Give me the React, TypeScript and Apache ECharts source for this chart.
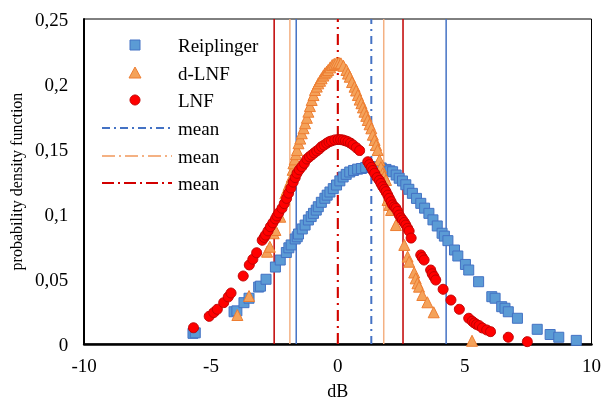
import React, { useEffect, useRef } from "react";
import * as echarts from "echarts";

// Reiplinger PDF points [dB, pdf]
const reiplinger: [number, number][] = [
  [-5.71, 0.0082], [-5.62, 0.0086], [-4.09, 0.0248], [-3.98, 0.0255], [-3.7, 0.0318], [-3.5, 0.0352],
  [-3.12, 0.0438], [-3.05, 0.0445], [-2.83, 0.0498], [-2.46, 0.0592], [-2.27, 0.0646], [-2.03, 0.0704],
  [-1.93, 0.074], [-1.84, 0.0762], [-1.68, 0.0808], [-1.6, 0.0825], [-1.55, 0.0846], [-1.4, 0.0885],
  [-1.29, 0.0915], [-1.16, 0.0954], [-1.05, 0.098], [-0.96, 0.1005], [-0.85, 0.103], [-0.77, 0.1056],
  [-0.65, 0.109], [-0.51, 0.1121], [-0.42, 0.1145], [-0.31, 0.1169], [-0.18, 0.1195], [-0.05, 0.1223],
  [0.08, 0.1255], [0.21, 0.1285], [0.33, 0.1305], [0.47, 0.1323], [0.62, 0.1335], [0.78, 0.1345],
  [0.93, 0.135], [1.1, 0.1358], [1.32, 0.1364], [1.5, 0.136], [1.71, 0.1354], [1.9, 0.1343],
  [2.05, 0.1332], [2.16, 0.1325], [2.3, 0.13], [2.42, 0.1275], [2.55, 0.1254], [2.68, 0.1225],
  [2.8, 0.119], [2.94, 0.1159], [3.1, 0.112], [3.27, 0.1082], [3.42, 0.1045], [3.59, 0.1005],
  [3.75, 0.0955], [3.92, 0.0908], [4.11, 0.0852], [4.2, 0.083], [4.34, 0.0795], [4.6, 0.0723],
  [4.73, 0.0677], [5.03, 0.0612], [5.16, 0.0569], [5.55, 0.0479], [6.07, 0.0364], [6.2, 0.0352],
  [6.46, 0.0287], [6.59, 0.0275], [6.72, 0.0248], [7.08, 0.0198], [7.86, 0.0113], [8.37, 0.0073],
  [8.71, 0.0052], [9.4, 0.0028],
];

// d-LNF PDF points
const dLnf: [number, number][] = [
  [-3.96, 0.0223], [-3.5, 0.0369], [-2.79, 0.071], [-2.68, 0.0748], [-2.53, 0.0852], [-2.46, 0.0877],
  [-2.27, 0.0979], [-2.07, 0.1159], [-2.0, 0.119], [-1.94, 0.1223], [-1.87, 0.1255], [-1.81, 0.1287],
  [-1.78, 0.134], [-1.75, 0.139], [-1.7, 0.142], [-1.65, 0.146], [-1.61, 0.1492], [-1.55, 0.1544],
  [-1.48, 0.158], [-1.42, 0.1621], [-1.35, 0.166], [-1.29, 0.1698], [-1.22, 0.174], [-1.16, 0.1787],
  [-1.1, 0.183], [-1.03, 0.1877], [-0.96, 0.1915], [-0.9, 0.1954], [-0.83, 0.198], [-0.77, 0.2005],
  [-0.7, 0.2025], [-0.64, 0.2044], [-0.57, 0.2065], [-0.51, 0.2082], [-0.44, 0.2095], [-0.38, 0.2108],
  [-0.3, 0.2128], [-0.22, 0.2146], [-0.14, 0.2155], [-0.05, 0.2164], [0.04, 0.2165], [0.12, 0.2159],
  [0.22, 0.214], [0.34, 0.2108], [0.4, 0.208], [0.47, 0.2056], [0.56, 0.2015], [0.66, 0.1979],
  [0.72, 0.195], [0.79, 0.1915], [0.86, 0.188], [0.93, 0.1852], [0.99, 0.182], [1.05, 0.1787],
  [1.12, 0.1755], [1.18, 0.1723], [1.25, 0.169], [1.32, 0.1659], [1.38, 0.161], [1.45, 0.1569],
  [1.51, 0.153], [1.57, 0.1492], [1.64, 0.1415], [1.7, 0.136], [1.77, 0.1313], [1.83, 0.129],
  [1.9, 0.1262], [1.93, 0.119], [1.96, 0.1108], [2.03, 0.107], [2.1, 0.1031], [2.29, 0.0915],
  [2.62, 0.0762], [2.75, 0.0672], [2.81, 0.0633], [3.01, 0.055], [3.07, 0.0505], [3.14, 0.0467],
  [3.2, 0.0441], [3.33, 0.0377], [3.53, 0.0321], [3.78, 0.0244], [5.29, 0.0025],
];

// LNF PDF points
const lnf: [number, number][] = [
  [-5.69, 0.0125], [-5.07, 0.0213], [-4.89, 0.0242], [-4.75, 0.0267], [-4.5, 0.0318], [-4.32, 0.0362],
  [-4.21, 0.0392], [-3.73, 0.0523], [-3.49, 0.0608], [-3.35, 0.0652], [-3.2, 0.0702], [-2.98, 0.0798],
  [-2.9, 0.082], [-2.85, 0.0838], [-2.75, 0.087], [-2.66, 0.0902], [-2.56, 0.0932], [-2.46, 0.0962],
  [-2.4, 0.0985], [-2.33, 0.1008], [-2.2, 0.1044], [-2.11, 0.108], [-2.02, 0.112], [-1.94, 0.116],
  [-1.85, 0.12], [-1.76, 0.1245], [-1.68, 0.128], [-1.61, 0.1313], [-1.52, 0.134], [-1.42, 0.1364],
  [-1.32, 0.139], [-1.22, 0.1423], [-1.12, 0.144], [-1.03, 0.1454], [-0.93, 0.147], [-0.83, 0.1485],
  [-0.73, 0.15], [-0.64, 0.1518], [-0.54, 0.153], [-0.44, 0.1544], [-0.35, 0.1555], [-0.25, 0.1562],
  [-0.12, 0.157], [0.01, 0.1573], [0.11, 0.1572], [0.21, 0.1569], [0.3, 0.1563], [0.4, 0.1556],
  [0.5, 0.1545], [0.6, 0.1531], [0.73, 0.151], [0.86, 0.1488], [1.18, 0.1402], [1.25, 0.138],
  [1.32, 0.1358], [1.38, 0.1335], [1.45, 0.1313], [1.55, 0.128], [1.64, 0.1258], [1.7, 0.1235],
  [1.77, 0.121], [1.84, 0.119], [1.9, 0.1172], [1.97, 0.1145], [2.03, 0.1121], [2.1, 0.1095],
  [2.16, 0.107], [2.23, 0.1055], [2.29, 0.1044], [2.36, 0.102], [2.42, 0.0992], [2.49, 0.097],
  [2.55, 0.0954], [2.62, 0.0935], [2.68, 0.0915], [2.75, 0.089], [2.81, 0.0869], [2.89, 0.0815],
  [3.27, 0.0685], [3.33, 0.0665], [3.4, 0.0646], [3.66, 0.0569], [3.72, 0.054], [3.79, 0.0518],
  [3.86, 0.0492], [4.15, 0.0421], [4.46, 0.0338], [4.79, 0.0267], [5.16, 0.0198], [5.3, 0.0175],
  [5.38, 0.0162], [5.47, 0.015], [5.57, 0.0142], [5.7, 0.0123], [5.87, 0.0108], [6.02, 0.0095],
  [6.72, 0.0052], [7.47, 0.0018],
];

// means and ±σ bounds (dB)
const reiplingerMean = 1.32;
const reiplingerBounds = [-1.64, 4.27];
const dLnfMean = 0;
const dLnfBounds = [-1.89, 1.81];
const lnfMean = 0;
const lnfBounds = [-2.51, 2.57];

const xRange = [-10, 10];
const yRange = [0, 0.25];
const legendLabels = ["Reiplinger", "d-LNF", "LNF", "mean", "mean", "mean"];

const FONT = '"Liberation Serif", "DejaVu Serif", serif';
const BLUE = "#4472C4";
const BLUE_FILL = "#5B9BD5";
const ORANGE = "#ED7D31";
const ORANGE_FILL = "#F4A25A";
const ORANGE_LIGHT = "#F4B183";
const RED = "#C00000";
const RED_MEAN = "#D20000";
const RED_FILL = "#FF0000";

const vline = (x: number, color: string, width: number, dash: any) => ({
  type: "line",
  data: [[x, yRange[0]], [x, yRange[1]]],
  symbol: "none",
  silent: true,
  z: 1,
  lineStyle: { color, width, type: dash },
});

export default function App() {
  const ref = useRef<HTMLDivElement>(null);
  useEffect(() => {
    if (!ref.current) return;
    const chart = echarts.init(ref.current, undefined, { renderer: "svg" });
    const legendRowY = [45, 73, 100, 128, 156, 183];
    const meanColors = [BLUE, ORANGE_LIGHT, RED_MEAN];
    const meanDash = [[8, 4, 2, 4], [13, 4, 2, 4], [12, 4, 2, 4]];
    const plotDash = [[8, 5, 2, 5], [11, 5, 2, 5], [11, 5, 2, 5]];
    const graphic: any[] = [];
    graphic.push({ type: "rect", shape: { x: 130, y: legendRowY[0] - 5, width: 10, height: 10 }, style: { fill: BLUE_FILL, stroke: BLUE, lineWidth: 1 } });
    graphic.push({ type: "polygon", shape: { points: [[135, legendRowY[1] - 6], [141, legendRowY[1] + 5], [129, legendRowY[1] + 5]] }, style: { fill: ORANGE_FILL, stroke: ORANGE, lineWidth: 1 } });
    graphic.push({ type: "circle", shape: { cx: 135, cy: legendRowY[2], r: 5 }, style: { fill: RED_FILL, stroke: RED, lineWidth: 1 } });
    for (let i = 0; i < 3; i++) {
      graphic.push({ type: "line", shape: { x1: 102, y1: legendRowY[3 + i], x2: 172, y2: legendRowY[3 + i] }, style: { stroke: meanColors[i], lineWidth: 2, lineDash: meanDash[i] } });
    }
    legendLabels.forEach((t, i) => {
      graphic.push({ type: "text", x: 178, y: legendRowY[i], style: { text: t, fontSize: 19, fontFamily: FONT, fill: "#000", verticalAlign: "middle", align: "left" } });
    });

    chart.setOption({
      animation: false,
      grid: { left: 82, right: 10, top: 19, bottom: 61, show: true, borderColor: "#000", borderWidth: 1 },
      xAxis: {
        type: "value", min: xRange[0], max: xRange[1], interval: 5,
        name: "dB", nameLocation: "middle", nameGap: 38,
        nameTextStyle: { fontSize: 18, fontFamily: FONT, color: "#000" },
        axisLine: { show: true, onZero: false, lineStyle: { color: "#000", width: 2.5 } },
        axisTick: { show: false },
        splitLine: { show: false },
        axisLabel: { margin: 12, fontSize: 19, fontFamily: FONT, color: "#000" },
      },
      yAxis: {
        type: "value", min: yRange[0], max: yRange[1], interval: 0.05,
        name: "probability density function", nameLocation: "middle", nameGap: 60,
        nameTextStyle: { fontSize: 16, fontFamily: FONT, color: "#000" },
        axisLine: { show: true, onZero: false, lineStyle: { color: "#000", width: 2 } },
        axisTick: { show: false },
        splitLine: { show: false },
        axisLabel: {
          margin: 16, fontSize: 19, fontFamily: FONT, color: "#000",
          formatter: (v: number) => String(Number(v.toFixed(2))).replace(".", ","),
        },
      },
      graphic,
      series: [
        vline(reiplingerBounds[0], BLUE, 1.5, "solid"),
        vline(reiplingerBounds[1], BLUE, 1.5, "solid"),
        vline(dLnfBounds[0], ORANGE_LIGHT, 1.5, "solid"),
        vline(dLnfBounds[1], ORANGE_LIGHT, 1.5, "solid"),
        vline(lnfBounds[0], RED, 1.5, "solid"),
        vline(lnfBounds[1], RED, 1.5, "solid"),
        {
          type: "scatter", name: "Reiplinger", data: reiplinger, symbol: "rect", symbolSize: 10, z: 3,
          itemStyle: { color: BLUE_FILL, borderColor: BLUE, borderWidth: 1, opacity: 1 },
        },
        {
          type: "scatter", name: "d-LNF", data: dLnf, symbol: "triangle", symbolSize: 11, z: 3,
          itemStyle: { color: ORANGE_FILL, borderColor: ORANGE, borderWidth: 1, opacity: 1 },
        },
        {
          type: "scatter", name: "LNF", data: lnf, symbol: "circle", symbolSize: 10, z: 3,
          itemStyle: { color: RED_FILL, borderColor: RED, borderWidth: 1, opacity: 1 },
        },
        vline(reiplingerMean, BLUE, 2, plotDash[0]),
        vline(dLnfMean, ORANGE_LIGHT, 2, plotDash[1]),
        vline(lnfMean, RED_MEAN, 2, plotDash[2]),
      ],
    });
    return () => chart.dispose();
  }, []);
  return <div ref={ref} style={{ position: "fixed", left: 0, top: 0, width: 604, height: 405 }} />;
}
